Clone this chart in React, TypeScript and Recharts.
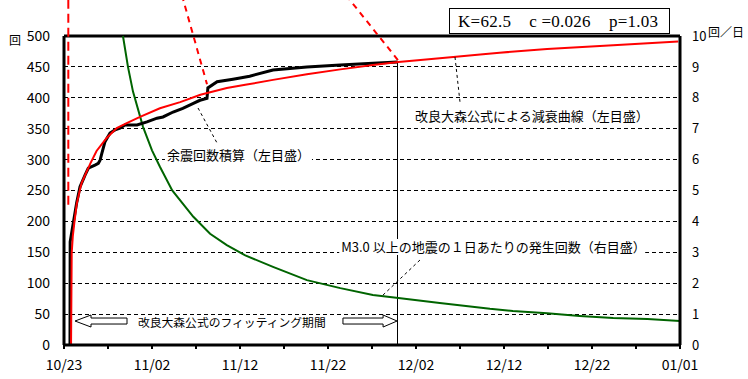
import React from 'react';
import { LineChart, Line, XAxis, YAxis, CartesianGrid, ReferenceLine, ReferenceDot } from 'recharts';

// days after 10/23 00:00
const xTickValues = [0, 5, 10, 15, 20, 25, 30, 35, 40, 45, 50, 55, 60, 65, 70];
const xTickLabels = ['10/23', '11/02', '11/12', '11/22', '12/02', '12/12', '12/22', '01/01'];
const leftTicks = [0, 50, 100, 150, 200, 250, 300, 350, 400, 450, 500];
const rightTicks = [0, 1, 2, 3, 4, 5, 6, 7, 8, 9, 10];

// 改良大森公式による減衰曲線 (cumulative)
const omoriDays = [0.8, 0.875, 1.0, 1.17, 1.44, 1.82, 2.0, 2.5, 3.0, 3.7, 4.85, 5.99, 7.13, 8.64, 10.9, 13.2, 15.5, 18.5, 20.6, 23.75, 27.6, 31.4, 35.1, 38, 42.7, 47.3, 49.5, 54.9, 62.4, 69.8];
const omoriCounts = [0, 149, 176, 197, 228, 252, 262, 278, 294, 314, 335, 351, 359, 369, 383, 393, 405, 416, 421, 429, 438, 446, 453, 458, 464, 470, 473, 479, 485, 491];

// 余震回数積算 (observed)
const obsDays = [0.68, 0.7, 1.05, 1.44, 1.82, 2.39, 2.76, 3.52, 3.9, 4.1, 4.3, 4.66, 5.23, 5.8, 6.36, 6.93, 8.3, 9.43, 10.57, 11.25, 12.4, 13.5, 14.7, 15.45, 16.25, 16.35, 17.4, 19.2, 20.0, 21.1, 23.75, 27.6, 31.4, 35.1, 37.9];
const obsCounts = [0, 167, 197, 230, 256, 275, 286, 291, 294, 299, 310, 329, 343, 348, 351, 356, 356, 361, 367, 369, 377, 383, 391, 396, 399, 416, 426, 430, 432, 435, 445, 450, 453, 456, 458];

// M3.0以上の地震の1日あたりの発生回数 (right axis)
const rateDays = [6.7, 7.27, 7.84, 8.98, 10.0, 10.9, 12.3, 14.7, 16.6, 18.5, 20.6, 23.75, 27.6, 31.4, 35.1, 38, 42.7, 48.4, 51, 54.9, 58.6, 62.4, 66.3, 70];
const ratePerDay = [10, 9.0, 8.2, 7.06, 6.3, 5.77, 5.0, 4.15, 3.6, 3.23, 2.9, 2.53, 2.1, 1.84, 1.62, 1.52, 1.36, 1.17, 1.1, 1.03, 0.94, 0.87, 0.84, 0.78];

const fitEndDay = 37.95;

const omoriData = omoriDays.map((d, i) => ({ day: d, v: omoriCounts[i] }));
const obsData = obsDays.map((d, i) => ({ day: d, v: obsCounts[i] }));
const rateData = rateDays.map((d, i) => ({ day: d, r: ratePerDay[i] }));

const FONT = "'Noto Sans CJK JP', sans-serif";

const XTick = (props: any) => {
  const { x, y, payload } = props;
  if (payload.value % 10 !== 0) return <g />;
  return (
    <text x={x} y={y + 19} textAnchor="middle" fontSize={14} fontFamily={FONT} fill="#000">
      {xTickLabels[payload.value / 10]}
    </text>
  );
};

const textLabel = (text: string, fontSize: number, bgWidth: number) => (p: any) => (
  <g>
    {bgWidth > 0 && <rect x={p.cx - 2} y={p.cy - 8} width={bgWidth} height={16} fill="#fff" />}
    <text x={p.cx} y={p.cy} dominantBaseline="central" fontSize={fontSize} fontFamily={FONT} fill="#000">
      {text}
    </text>
  </g>
);

const hollowArrow = (head: number) => (p: any) => {
  const { x1, y1, x2 } = p;
  const d = x2 > x1 ? 1 : -1;
  const hx = x2 - d * head;
  const y = y1;
  const pts = [
    [x2, y], [hx, y - 6], [hx, y - 3], [x1, y - 3], [x1, y + 3], [hx, y + 3], [hx, y + 6],
  ].map((q) => q.join(',')).join(' ');
  return <polygon points={pts} fill="#fff" stroke="#000" strokeWidth={1} />;
};

export default function App() {
  return (
    <div style={{ position: 'absolute', left: 0, top: 0, width: 748, height: 379, background: '#fff' }}>
      <LineChart width={748} height={379} margin={{ top: 36, right: 8, bottom: 4, left: 8 }}>
        <CartesianGrid yAxisId="left" vertical={false} stroke="#000" strokeDasharray="4 3" shapeRendering="crispEdges" />
        <XAxis
          type="number"
          dataKey="day"
          domain={[0, 70]}
          ticks={xTickValues}
          height={30}
          tick={<XTick />}
          tickSize={4}
          tickLine={{ stroke: '#000', strokeWidth: 2 }}
          axisLine={{ stroke: '#000', strokeWidth: 3 }}
          interval={0}
        />
        <YAxis
          yAxisId="left"
          domain={[0, 500]}
          ticks={leftTicks}
          width={56}
          tickSize={0}
          tickMargin={14}
          interval={0}
          axisLine={{ stroke: '#000', strokeWidth: 3 }}
          tick={{ fontSize: 14, fontFamily: FONT, fill: '#000' }}
        />
        <YAxis
          yAxisId="right"
          orientation="right"
          domain={[0, 10]}
          ticks={rightTicks}
          width={60}
          tickSize={0}
          tickMargin={12}
          interval={0}
          axisLine={{ stroke: '#000', strokeWidth: 3 }}
          tick={{ fontSize: 13, fontFamily: FONT, fill: '#000' }}
        />

        <ReferenceDot yAxisId="left" x={11.7} y={309} shape={textLabel('余震回数積算（左目盛）', 13, 147)} />
        <ReferenceDot yAxisId="left" x={39.9} y={372} shape={textLabel('改良大森公式による減衰曲線（左目盛）', 13, 0)} />
        <ReferenceDot yAxisId="left" x={31.5} y={158.6} shape={textLabel('M3.0 以上の地震の１日あたりの発生回数（右目盛）', 13, 306)} />
        <ReferenceDot yAxisId="left" x={8.4} y={38.5} shape={textLabel('改良大森公式のフィッティング期間', 11.8, 0)} />

        <ReferenceLine yAxisId="left" y={500} stroke="#000" strokeWidth={3} />
        <ReferenceLine yAxisId="left" segment={[{ x: fitEndDay, y: 0 }, { x: fitEndDay, y: 458 }]} stroke="#000" strokeWidth={1} shapeRendering="crispEdges" />

        <Line yAxisId="right" data={rateData} dataKey="r" stroke="#006400" strokeWidth={2} dot={false} isAnimationActive={false} />
        <Line yAxisId="left" data={obsData} dataKey="v" stroke="#000" strokeWidth={3} dot={false} isAnimationActive={false} />
        <Line yAxisId="left" data={omoriData} dataKey="v" stroke="#ff0000" strokeWidth={2} dot={false} isAnimationActive={false} />

        {/* leaders */}
        <ReferenceLine yAxisId="left" ifOverflow="visible" segment={[{ x: 0.49, y: 227 }, { x: 0.49, y: 566 }]} stroke="#ff0000" strokeWidth={2} strokeDasharray="9 5" />
        <ReferenceLine yAxisId="left" ifOverflow="visible" segment={[{ x: 13.4, y: 566 }, { x: 16.25, y: 422 }]} stroke="#ff0000" strokeWidth={2} strokeDasharray="6 5" />
        <ReferenceLine yAxisId="left" ifOverflow="visible" segment={[{ x: 32.05, y: 566 }, { x: 37.95, y: 461 }]} stroke="#ff0000" strokeWidth={2} strokeDasharray="6 5" />
        <ReferenceLine yAxisId="left" segment={[{ x: 15.23, y: 383.5 }, { x: 17.39, y: 326.9 }]} stroke="#000" strokeWidth={1} strokeDasharray="3 3" />
        <ReferenceLine yAxisId="left" segment={[{ x: 44.43, y: 466 }, { x: 45.0, y: 393 }]} stroke="#000" strokeWidth={1} strokeDasharray="3 3" />
        <ReferenceLine yAxisId="left" segment={[{ x: 40.45, y: 137.5 }, { x: 36.14, y: 79.3 }]} stroke="#000" strokeWidth={1} strokeDasharray="3 3" />

        {/* fitting period arrows */}
        <ReferenceLine yAxisId="left" segment={[{ x: 7.16, y: 38.8 }, { x: 1.25, y: 38.8 }]} shape={hollowArrow(16)} />
        <ReferenceLine yAxisId="left" segment={[{ x: 31.7, y: 38.8 }, { x: 37.85, y: 38.8 }]} shape={hollowArrow(14)} />
      </LineChart>

      <svg width={748} height={379} style={{ position: 'absolute', left: 0, top: 0, pointerEvents: 'none' }}>
        <text x={9} y={39} dominantBaseline="central" fontSize={12} fontFamily={FONT}>回</text>
        <text x={708} y={31} dominantBaseline="central" fontSize={12} fontFamily={FONT}>回／日</text>
        <rect x={449.5} y={8.5} width={220} height={25} fill="#fff" stroke="#000" strokeWidth={1} />
        <text x={458} y={21} dominantBaseline="central" fontSize={17} fontFamily="'Liberation Serif', serif" textLength={200} lengthAdjust="spacing" style={{ whiteSpace: 'pre' }}>
          {'K=62.5    c =0.026    p=1.03'}
        </text>
      </svg>
    </div>
  );
}
